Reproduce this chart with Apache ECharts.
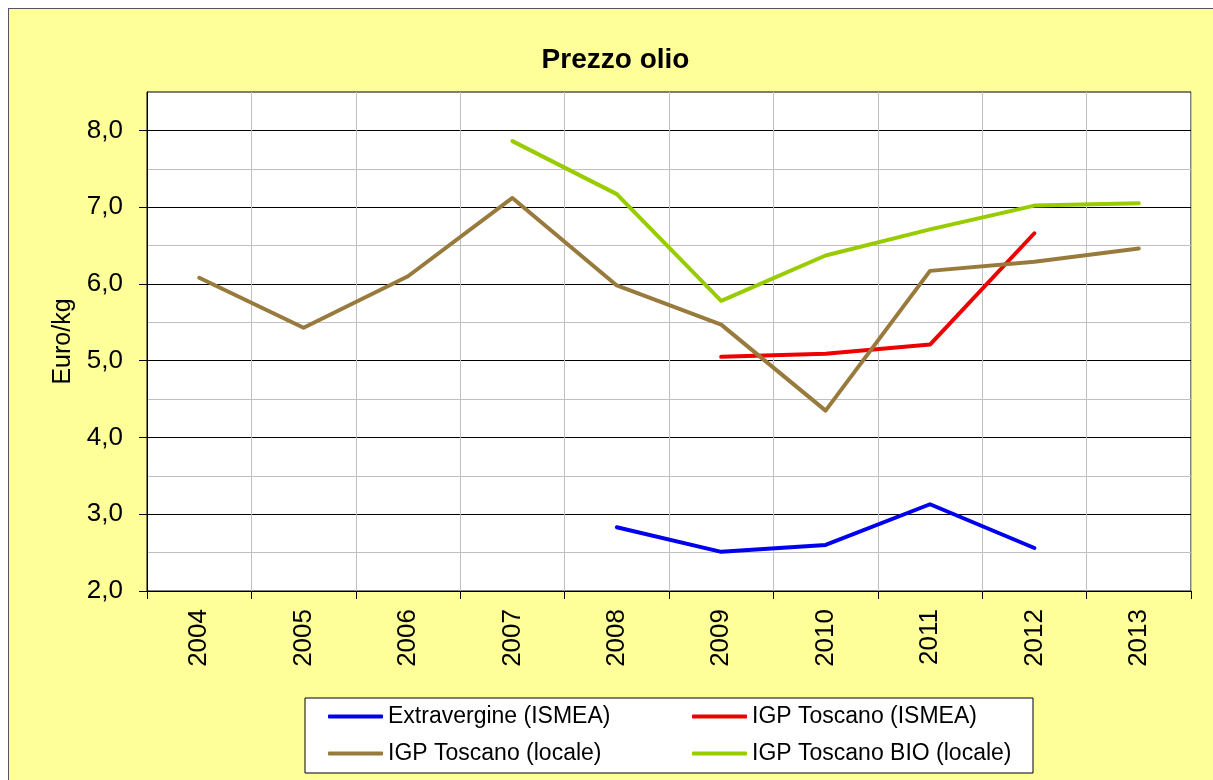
<!DOCTYPE html>
<html>
<head>
<meta charset="utf-8">
<script src="https://cdn.jsdelivr.net/npm/echarts@6/dist/echarts.min.js"></script>
<style>
html,body{margin:0;padding:0;background:#fff;overflow:hidden;}
#main{position:absolute;left:8px;top:8px;width:1215px;height:780px;border:1px solid #555;box-sizing:border-box;}
</style>
</head>
<body>
<div id="main"></div>
<script>
var years = ['2004','2005','2006','2007','2008','2009','2010','2011','2012','2013'];
var yTicks = [2, 3, 4, 5, 6, 7, 8];
var extravergine = [null, null, null, null, 2.83, 2.51, 2.60, 3.13, 2.56, null];
var igpIsmea = [null, null, null, null, null, 5.05, 5.09, 5.21, 6.66, null];
var igpLocale = [6.08, 5.43, 6.10, 7.12, 5.98, 5.47, 4.35, 6.17, 6.29, 6.46];
var igpBio = [null, null, null, 7.86, 7.17, 5.78, 6.37, 6.71, 7.02, 7.05];

var chart = echarts.init(document.getElementById('main'), null, {renderer: 'canvas'});

function serie(name, data, color){
    return {
        name: name,
        type: 'line',
        data: data,
        symbol: 'none',
        connectNulls: false,
        lineStyle: {width: 4, color: color, cap: 'round', join: 'round'},
        itemStyle: {color: color}
    };
}

var legendText = {fontSize: 23, color: '#000', fontFamily: 'Liberation Sans'};

var option = {
    backgroundColor: '#ffff99',
    animation: false,
    textStyle: {fontFamily: 'Liberation Sans'},
    title: {
        text: 'Prezzo olio',
        left: 'center',
        top: 32,
        textStyle: {fontSize: 28, fontWeight: 'bold', color: '#000', fontFamily: 'Liberation Sans'}
    },
    grid: {
        left: 138, top: 83, width: 1044, height: 499,
        show: true, backgroundColor: '#fff', borderColor: '#000', borderWidth: 1
    },
    graphic: [{
        type: 'rect',
        shape: {x: 296, y: 689, width: 728, height: 75},
        style: {fill: '#fff', stroke: '#000', lineWidth: 1},
        z: 0
    }],
    legend: [{
        data: ['Extravergine (ISMEA)', 'IGP Toscano (locale)'],
        orient: 'vertical',
        left: 314, top: 691,
        itemWidth: 55, itemHeight: 4, itemGap: 14, itemTextGap: 5,
        icon: 'roundRect',
        textStyle: legendText
    }, {
        data: ['IGP Toscano (ISMEA)', 'IGP Toscano BIO (locale)'],
        orient: 'vertical',
        left: 678, top: 691,
        itemWidth: 55, itemHeight: 4, itemGap: 14, itemTextGap: 5,
        icon: 'roundRect',
        textStyle: legendText
    }],
    xAxis: {
        type: 'category',
        data: years,
        boundaryGap: true,
        axisLine: {lineStyle: {color: '#000', width: 1}},
        axisTick: {show: true, length: 8, lineStyle: {color: '#000'}},
        axisLabel: {rotate: 90, fontSize: 26, color: '#000', margin: 18},
        splitLine: {show: true, lineStyle: {color: '#c0c0c0', width: 1}}
    },
    yAxis: {
        type: 'value',
        min: 2, max: 8.5, interval: 1,
        name: 'Euro/kg',
        nameLocation: 'middle',
        nameGap: 68,
        nameTextStyle: {fontSize: 25, color: '#000'},
        axisLine: {show: true, lineStyle: {color: '#000'}},
        axisTick: {show: true, length: 8, lineStyle: {color: '#000'}, customValues: yTicks},
        axisLabel: {
            fontSize: 26, color: '#000', margin: 24,
            customValues: yTicks,
            formatter: function(v){ return v.toFixed(1).replace('.', ','); }
        },
        splitLine: {show: true, lineStyle: {color: '#000', width: 1}},
        minorTick: {show: false, splitNumber: 2},
        minorSplitLine: {show: true, lineStyle: {color: '#c0c0c0', width: 1}}
    },
    series: [
        serie('Extravergine (ISMEA)', extravergine, '#0000ee'),
        serie('IGP Toscano (ISMEA)', igpIsmea, '#ee0000'),
        serie('IGP Toscano (locale)', igpLocale, '#997a3d'),
        serie('IGP Toscano BIO (locale)', igpBio, '#99cc00')
    ]
};
chart.setOption(option);
</script>
</body>
</html>
